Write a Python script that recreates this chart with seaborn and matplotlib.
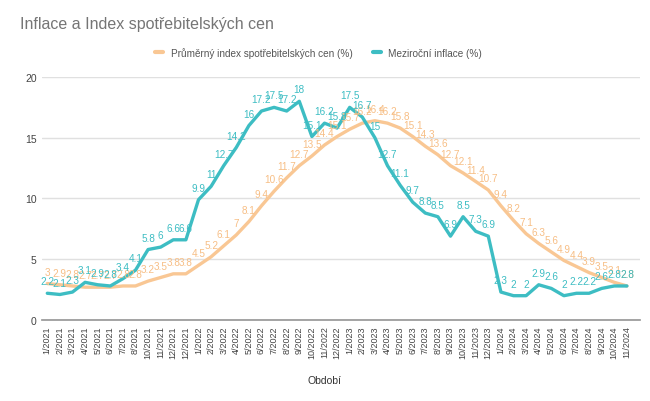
import matplotlib
matplotlib.use("Agg")
import matplotlib.pyplot as plt
import seaborn as sns
import pandas as pd
from matplotlib.lines import Line2D

periods = ["1/2021", "2/2021", "3/2021", "4/2021", "5/2021", "6/2021", "7/2021", "8/2021",
           "10/2021", "11/2021", "12/2021", "12/2021",
           "1/2022", "2/2022", "3/2022", "4/2022", "5/2022", "6/2022", "7/2022", "8/2022",
           "9/2022", "10/2022", "11/2022", "12/2022",
           "1/2023", "2/2023", "3/2023", "4/2023", "5/2023", "6/2023", "7/2023", "8/2023",
           "9/2023", "10/2023", "11/2023", "12/2023",
           "1/2024", "2/2024", "3/2024", "4/2024", "5/2024", "6/2024", "7/2024", "8/2024",
           "9/2024", "10/2024", "11/2024"]

avg_index = [3, 2.9, 2.8, 2.7, 2.7, 2.7, 2.8, 2.8, 3.2, 3.5, 3.8, 3.8,
             4.5, 5.2, 6.1, 7, 8.1, 9.4, 10.6, 11.7, 12.7, 13.5, 14.4, 15.1,
             15.7, 16.2, 16.4, 16.2, 15.8, 15.1, 14.3, 13.6, 12.7, 12.1, 11.4, 10.7,
             9.4, 8.2, 7.1, 6.3, 5.6, 4.9, 4.4, 3.9, 3.5, 3.1, 2.8]

yoy_inflation = [2.2, 2.1, 2.3, 3.1, 2.9, 2.8, 3.4, 4.1, 5.8, 6, 6.6, 6.6,
                 9.9, 11, 12.7, 14.2, 16, 17.2, 17.5, 17.2, 18, 15.1, 16.2, 15.8,
                 17.5, 16.7, 15, 12.7, 11.1, 9.7, 8.8, 8.5, 6.9, 8.5, 7.3, 6.9,
                 2.3, 2, 2, 2.9, 2.6, 2, 2.2, 2.2, 2.6, 2.8, 2.8]

s_avg = "Průměrný index spotřebitelských cen (%)"
s_yoy = "Meziroční inflace (%)"
c_avg = "#F9C794"
c_yoy = "#3DBDC3"

n = len(periods)
df = pd.DataFrame({
    "idx": list(range(n)) * 2,
    "value": avg_index + yoy_inflation,
    "series": [s_avg] * n + [s_yoy] * n,
})

sns.set_theme(style="white")
plt.rcParams['font.family'] = ['Liberation Sans', 'DejaVu Sans']

fig = plt.figure(figsize=(6.5, 4.02), dpi=100)
ax = fig.add_axes([0.065, 0.2015, 0.92, 0.6045])

sns.lineplot(data=df, x="idx", y="value", hue="series", palette={s_avg: c_avg, s_yoy: c_yoy},
             linewidth=2.4, ax=ax, legend=False, sort=False)

for series, vals, col in [(s_avg, avg_index, "#F7BE85"), (s_yoy, yoy_inflation, "#3DBDC3")]:
    for i, v in enumerate(vals):
        ax.annotate(f"{v:g}", (i, v), xytext=(0, 5), textcoords="offset points",
                    ha="center", va="bottom", fontsize=7.2, color=col)

ax.set_xlim(-0.4, 47.06)
ax.set_ylim(0, 20)
ax.set_yticks([0, 5, 10, 15, 20])
ax.set_yticklabels(["0", "5", "10", "15", "20"], fontsize=7.5, color="#444444")
ax.set_xticks(range(n))
ax.set_xticklabels(periods, rotation=90, fontsize=6.5, color="#444444")
ax.tick_params(axis="both", length=0, pad=4)
ax.grid(axis="y", color="#e0e0e0", linewidth=1)
ax.set_axisbelow(True)
for sp in ["top", "right", "left"]:
    ax.spines[sp].set_visible(False)
ax.spines["bottom"].set_color("#999999")
ax.set_xlabel("")
ax.set_ylabel("")

fig.text(0.5, 0.052, "Období", ha="center", va="center", fontsize=7.5, color="#333333")
fig.text(0.03, 0.94, "Inflace a Index spotřebitelských cen", ha="left", va="center",
         fontsize=11.5, color="#757575")

handles = [Line2D([0], [0], color=c_avg, lw=3), Line2D([0], [0], color=c_yoy, lw=3)]
fig.legend(handles, [s_avg, s_yoy], loc="center", bbox_to_anchor=(0.49, 0.868), ncol=2,
           frameon=False, fontsize=7.2, handlelength=0.8, columnspacing=2.0,
           handletextpad=0.8, labelcolor="#555555")

fig.savefig("out.png", dpi=100)
